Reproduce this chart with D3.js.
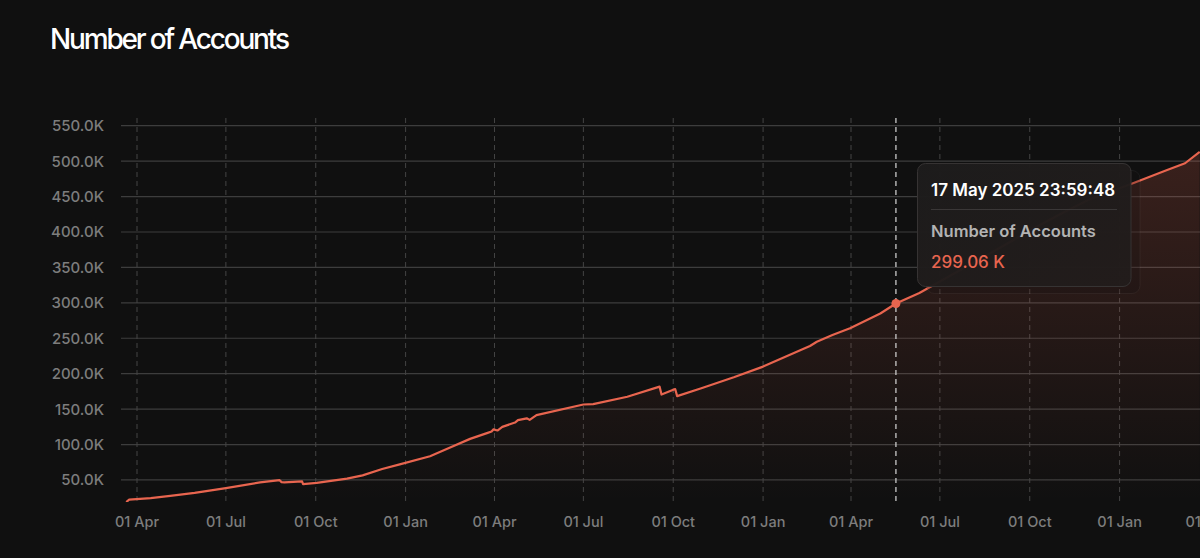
<!DOCTYPE html>
<html>
<head>
<meta charset="utf-8">
<script src="https://cdn.jsdelivr.net/npm/d3@7/dist/d3.min.js"></script>
<style>
  html, body { margin: 0; padding: 0; background: #101010; overflow: hidden; }
  svg { display: block; font-family: Inter, "Noto Sans", sans-serif; }
</style>
</head>
<body>
<svg id="chart" width="1200" height="558"></svg>
<script>
// ---- data ----
const dates = [
  "2023-03-21","2023-03-24","2023-04-15","2023-05-05","2023-05-30","2023-07-01",
  "2023-08-05","2023-08-25","2023-08-27","2023-08-30","2023-09-17","2023-09-18",
  "2023-10-02","2023-11-02","2023-11-18","2023-12-08","2023-12-26","2024-01-26",
  "2024-02-15","2024-03-07","2024-03-25","2024-03-29","2024-03-31","2024-04-04",
  "2024-04-09","2024-04-22","2024-04-25","2024-05-04","2024-05-07","2024-05-14",
  "2024-07-01","2024-07-11","2024-08-15","2024-09-17","2024-09-19","2024-10-03",
  "2024-10-05","2024-10-29","2024-12-02","2025-01-01","2025-02-08","2025-02-18",
  "2025-02-25","2025-03-13","2025-03-31","2025-05-01","2025-05-17","2025-06-10",
  "2025-07-01","2025-08-01","2025-09-01","2025-10-01","2025-11-01","2025-12-01",
  "2026-01-14","2026-02-18","2026-03-09","2026-03-24"
];
const accounts = [
  18800, 22300, 24500, 27500, 31800, 38500,
  46500, 49700, 47000, 46500, 47900, 44200,
  45900, 51800, 56500, 65500, 72000, 83500,
  95500, 108000, 116500, 118500, 121400, 119800,
  125000, 131000, 134500, 137000, 134800, 141500,
  156500, 157000, 167500, 181800, 170600, 178300,
  168400, 179200, 195000, 210000, 233000, 239000,
  245000, 254500, 264000, 285000, 299060, 314000,
  330000, 354000, 378000, 402000, 425000, 446000,
  468500, 487000, 497000, 513000
];
const yTicks = [50000,100000,150000,200000,250000,300000,350000,400000,450000,500000,550000];
const xTickDates = ["2023-04-01","2023-07-01","2023-10-01","2024-01-01","2024-04-01","2024-07-01",
  "2024-10-01","2025-01-01","2025-04-01","2025-07-01","2025-10-01","2026-01-01","2026-04-01"];
const title = "Number of Accounts";
const hover = { date: "2025-05-17", label: "17 May 2025 23:59:48", series: "Number of Accounts", value: 299060 };

// ---- setup ----
const W = 1200, H = 558;
const plot = { left: 121, right: 1200, top: 118, bottom: 502 };
const parse = d3.utcParse("%Y-%m-%d");
const data = dates.map((d, i) => ({ date: parse(d), value: accounts[i] }));

const x = d3.scaleUtc()
  .domain([parse("2023-04-01"), parse("2025-04-01")])
  .range([137, 851]);
const y = d3.scaleLinear()
  .domain([0, 550000])
  .range([515.4, 125.7]);

const LINE = "#e8654f";
const svg = d3.select("#chart");
svg.append("rect").attr("width", W).attr("height", H).attr("fill", "#101010");

const defs = svg.append("defs");
const grad = defs.append("linearGradient").attr("id", "areaGrad")
  .attr("gradientUnits", "userSpaceOnUse")
  .attr("x1", 0).attr("x2", 0).attr("y1", 140).attr("y2", plot.bottom);
grad.append("stop").attr("offset", "0%").attr("stop-color", LINE).attr("stop-opacity", 0.2);
grad.append("stop").attr("offset", "100%").attr("stop-color", LINE).attr("stop-opacity", 0.0);
defs.append("clipPath").attr("id", "plotClip").append("rect")
  .attr("x", plot.left).attr("y", plot.top - 10)
  .attr("width", plot.right - plot.left).attr("height", plot.bottom - plot.top + 10);

// title
const t = svg.append("text")
  .attr("x", 50).attr("y", 49)
  .attr("fill", "#ffffff")
  .attr("font-size", 28).attr("font-weight", 500)
  .text(title);
const tl = t.node().getComputedTextLength();
t.attr("letter-spacing", ((240 - tl) / (title.length - 1)).toFixed(2) + "px");

// horizontal grid
svg.append("g").selectAll("line").data(yTicks).join("line")
  .attr("x1", plot.left).attr("x2", plot.right)
  .attr("y1", d => y(d)).attr("y2", d => y(d))
  .attr("stroke", "#3d3d3d").attr("stroke-width", 1.2);

// vertical dashed grid
const xTicks = xTickDates.map(parse);
svg.append("g").selectAll("line").data(xTicks).join("line")
  .attr("x1", d => x(d)).attr("x2", d => x(d))
  .attr("y1", plot.top).attr("y2", plot.bottom)
  .attr("stroke", "#444").attr("stroke-width", 1)
  .attr("stroke-dasharray", "5,4");

// y labels
const fmtY = v => (v / 1000).toFixed(1) + "K";
svg.append("g").selectAll("text").data(yTicks).join("text")
  .attr("x", 104).attr("y", d => y(d))
  .attr("dy", "0.36em")
  .attr("text-anchor", "end")
  .attr("fill", "#7d7d7d").attr("font-size", 15).attr("font-weight", 500)
  .text(fmtY);

// x labels
const fmtX = d3.utcFormat("%d %b");
svg.append("g").selectAll("text").data(xTicks).join("text")
  .attr("x", d => x(d)).attr("y", 527)
  .attr("text-anchor", "middle")
  .attr("fill", "#7d7d7d").attr("font-size", 14.5).attr("font-weight", 500)
  .text(fmtX);

// area + line
const g = svg.append("g").attr("clip-path", "url(#plotClip)");
g.append("path").datum(data)
  .attr("d", d3.area().x(d => x(d.date)).y0(plot.bottom).y1(d => y(d.value)))
  .attr("fill", "url(#areaGrad)");
g.append("path").datum(data)
  .attr("d", d3.line().x(d => x(d.date)).y(d => y(d.value)))
  .attr("fill", "none").attr("stroke", LINE).attr("stroke-width", 2.2)
  .attr("stroke-linejoin", "round");

// hover line and dot
const hx = x(parse(hover.date)), hy = y(hover.value);
svg.append("line")
  .attr("x1", hx).attr("x2", hx).attr("y1", plot.top).attr("y2", plot.bottom)
  .attr("stroke", "#d8d8d8").attr("stroke-width", 1.2).attr("stroke-dasharray", "5,4");
svg.append("circle").attr("cx", hx).attr("cy", hy).attr("r", 4.5)
  .attr("fill", LINE);

// tooltip
const tip = svg.append("g");
const tx = 917.5, ty = 163.5, tw = 213.5, th = 123;
tip.append("rect").attr("x", tx + 9).attr("y", ty + 7).attr("width", tw).attr("height", th)
  .attr("rx", 8).attr("fill", "rgba(20,16,16,0.25)").attr("stroke", "rgba(255,255,255,0.05)");
const tgrad = defs.append("linearGradient").attr("id", "tipGrad")
  .attr("x1", 0).attr("y1", 0).attr("x2", 1).attr("y2", 1);
tgrad.append("stop").attr("offset", "0%").attr("stop-color", "#1d1c1c");
tgrad.append("stop").attr("offset", "100%").attr("stop-color", "#221c1b");
tip.append("rect").attr("x", tx).attr("y", ty).attr("width", tw).attr("height", th)
  .attr("rx", 8).attr("fill", "url(#tipGrad)").attr("fill-opacity", 0.97)
  .attr("stroke", "#363333").attr("stroke-width", 1);
tip.append("text").attr("x", 931).attr("y", 195.5)
  .attr("fill", "#ffffff").attr("font-size", 17).attr("font-weight", 600)
  .text(hover.label);
tip.append("line").attr("x1", 931).attr("x2", 1117).attr("y1", 209.5).attr("y2", 209.5)
  .attr("stroke", "#3a3737").attr("stroke-width", 1);
tip.append("text").attr("x", 931).attr("y", 236.5)
  .attr("fill", "#b3b3b3").attr("font-size", 16.5).attr("font-weight", 600)
  .text(hover.series);
tip.append("text").attr("x", 931).attr("y", 268)
  .attr("fill", LINE).attr("font-size", 17).attr("font-weight", 500)
  .text((hover.value / 1000).toFixed(2) + " K");
</script>
</body>
</html>
